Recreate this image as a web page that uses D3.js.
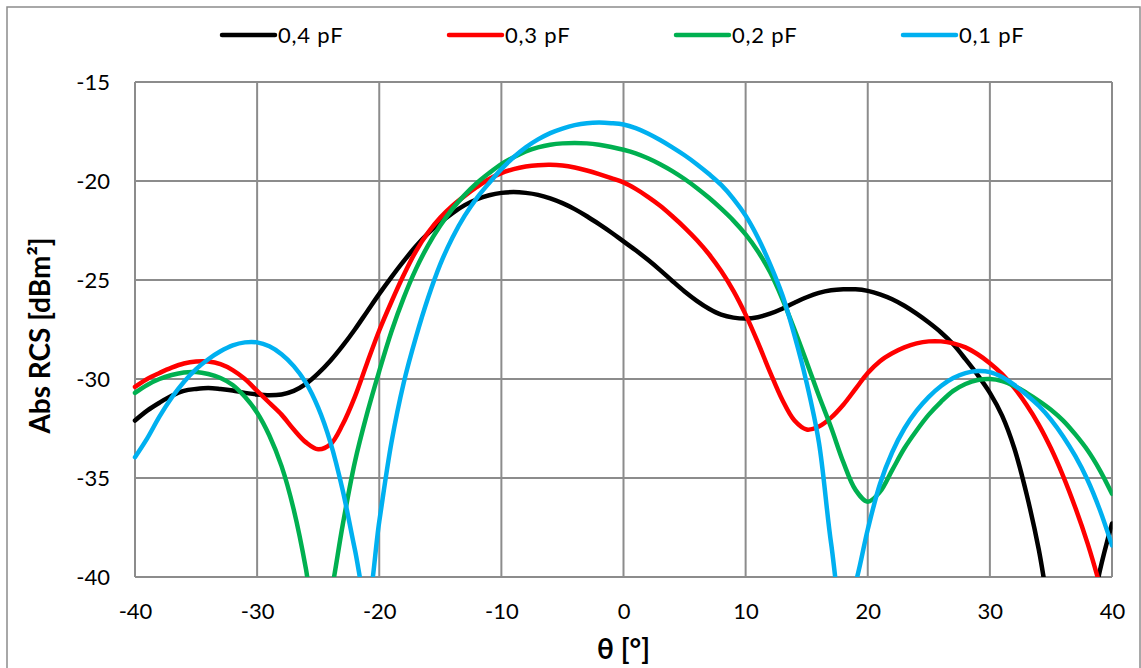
<!DOCTYPE html>
<html>
<head>
<meta charset="utf-8">
<script src="https://cdn.jsdelivr.net/npm/d3@7"></script>
<style>
  html, body { margin: 0; padding: 0; background: #fff; }
  svg { display: block; }
  text { font-family: Lato, "Open Sans", "Liberation Sans", sans-serif; fill: #000; }
</style>
</head>
<body>
<svg id="chart" width="1141" height="668"></svg>
<script>
// ---- data ----
const theta = d3.range(-40, 41, 1);
const seriesNames = ["0,4 pF", "0,3 pF", "0,2 pF", "0,1 pF"];
const seriesColors = ["#000000", "#ff0000", "#00b050", "#00b0f0"];

const pF04 = [
  -32.1, -31.6, -31.2, -30.85, -30.6, -30.5, -30.45, -30.5, -30.58, -30.7,
  -30.78, -30.82, -30.78, -30.6, -30.25, -29.72, -29.08, -28.33, -27.5, -26.6,
  -25.7, -24.85, -24.05, -23.3, -22.65, -22.1, -21.62, -21.22, -20.92, -20.72,
  -20.6, -20.56, -20.6, -20.7, -20.88, -21.12, -21.42, -21.78, -22.18, -22.6,
  -23.05, -23.5, -23.98, -24.5, -25.05, -25.58, -26.05, -26.45, -26.75, -26.9,
  -26.95, -26.88, -26.7, -26.45, -26.15, -25.87, -25.65, -25.52, -25.47, -25.47,
  -25.55, -25.72, -25.97, -26.3, -26.7, -27.15, -27.65, -28.25, -29.0, -29.8,
  -30.7, -31.85, -33.5, -35.8, -38.6, -42.2, -45.0, -46.0, -43.0, -39.7,
  -37.3
];
const pF03 = [
  -30.4, -30.0, -29.7, -29.43, -29.22, -29.12, -29.12, -29.25, -29.55, -30.0,
  -30.6, -31.2, -31.8, -32.55, -33.2, -33.55, -33.3, -32.3, -30.9, -29.2,
  -27.55, -26.1, -24.75, -23.55, -22.6, -21.85, -21.25, -20.75, -20.3, -19.9,
  -19.6, -19.4, -19.27, -19.2, -19.18, -19.22, -19.32, -19.47, -19.65, -19.85,
  -20.07, -20.4, -20.8, -21.25, -21.78, -22.35, -22.98, -23.7, -24.55, -25.55,
  -26.75, -28.15, -29.65, -31.05, -32.1, -32.55, -32.4, -31.95, -31.3, -30.5,
  -29.7, -29.1, -28.7, -28.4, -28.2, -28.1, -28.1, -28.2, -28.4, -28.75,
  -29.2, -29.75, -30.45, -31.3, -32.3, -33.5, -34.9, -36.5, -38.3, -40.4,
  -42.8
];
const pF02 = [
  -30.7, -30.3, -30.0, -29.8, -29.67, -29.65, -29.75, -29.95, -30.3, -30.9,
  -31.7, -32.85, -34.4, -36.6, -39.6, -43.5, -41.0, -37.4, -34.2, -31.75,
  -29.6, -27.6, -25.9, -24.45, -23.25, -22.25, -21.4, -20.7, -20.1, -19.6,
  -19.15, -18.8, -18.5, -18.3, -18.17, -18.1, -18.08, -18.1, -18.17, -18.28,
  -18.42, -18.6, -18.85, -19.15, -19.5, -19.9, -20.35, -20.85, -21.4, -22.0,
  -22.7, -23.55, -24.6, -25.95, -27.5, -29.15, -30.85, -32.45, -34.2, -35.6,
  -36.2, -35.7, -34.6, -33.5, -32.6, -31.8, -31.15, -30.6, -30.25, -30.05,
  -30.0, -30.1, -30.35, -30.7, -31.1, -31.55, -32.1, -32.8, -33.6, -34.6,
  -35.8
];
const pF01 = [
  -33.95, -33.0, -31.9, -30.95, -30.15, -29.5, -29.0, -28.6, -28.3, -28.15,
  -28.15, -28.35, -28.75, -29.35, -30.2, -31.45, -33.2, -35.6, -38.6, -41.4,
  -37.2, -33.2, -30.2, -27.9, -25.9, -24.2, -22.85, -21.75, -20.85, -20.1,
  -19.4, -18.8, -18.3, -17.9, -17.58, -17.35, -17.18, -17.08, -17.05, -17.08,
  -17.15, -17.33, -17.6, -17.93, -18.3, -18.7, -19.15, -19.65, -20.2, -20.9,
  -21.75, -22.85, -24.2, -25.75, -27.8, -30.2, -33.2, -38.3, -42.0, -40.3,
  -37.6, -35.3, -33.7, -32.5, -31.6, -30.9, -30.35, -29.95, -29.7, -29.6,
  -29.65, -29.9, -30.3, -30.8, -31.35, -32.05, -32.9, -33.9, -35.1, -36.6,
  -38.4
];
const seriesValues = [pF04, pF03, pF02, pF01];

const xTicks = [-40, -30, -20, -10, 0, 10, 20, 30, 40];
const yTicks = [-15, -20, -25, -30, -35, -40];
const xTitle = "θ [°]";
const yTitle = "Abs RCS [dBm²]";

// ---- layout ----
const svg = d3.select("#chart");
const plot = { left: 135, top: 82, right: 1112, bottom: 577 };

const x = d3.scaleLinear().domain([-40, 40]).range([plot.left, plot.right]);
const y = d3.scaleLinear().domain([-40, -15]).range([plot.bottom, plot.top]);

// outer frame
svg.append("rect")
  .attr("x", 7).attr("y", 7).attr("width", 1133).attr("height", 670)
  .attr("fill", "#fff").attr("stroke", "#8c8c8c").attr("stroke-width", 1.5);

// gridlines
const grid = svg.append("g");
grid.selectAll("line.v").data(xTicks).join("line")
  .attr("x1", d => x(d)).attr("x2", d => x(d))
  .attr("y1", plot.top).attr("y2", plot.bottom)
  .attr("stroke", "#8c8c8c").attr("stroke-width", 2);
grid.selectAll("line.h").data(yTicks).join("line")
  .attr("x1", plot.left).attr("x2", plot.right)
  .attr("y1", d => y(d)).attr("y2", d => y(d))
  .attr("stroke", "#8c8c8c").attr("stroke-width", 2);

// axes (labels only)
const fmt = d => String(d);
const xAxis = d3.axisBottom(x).tickValues(xTicks).tickSize(0).tickPadding(26).tickFormat(fmt);
const gx = svg.append("g").attr("transform", `translate(0,${plot.bottom})`).call(xAxis);
gx.select(".domain").remove();
gx.selectAll("text").style("font-size", "22px").attr("fill", "#000")
  .style("font-family", "Lato, 'Open Sans', sans-serif");

const yAxis = d3.axisLeft(y).tickValues(yTicks).tickSize(0).tickPadding(25).tickFormat(fmt);
const gy = svg.append("g").attr("transform", `translate(${plot.left},0)`).call(yAxis);
gy.select(".domain").remove();
gy.selectAll("text").style("font-size", "22px").attr("fill", "#000")
  .style("font-family", "Lato, 'Open Sans', sans-serif");

// clip
svg.append("clipPath").attr("id", "clip").append("rect")
  .attr("x", plot.left - 3).attr("y", plot.top - 10)
  .attr("width", plot.right - plot.left + 3.5).attr("height", plot.bottom - plot.top + 10);

const line = d3.line()
  .x((d, i) => x(theta[i]))
  .y(d => y(d))
  .curve(d3.curveCatmullRom.alpha(0.5));

const lines = svg.append("g").attr("clip-path", "url(#clip)");
seriesValues.forEach((vals, k) => {
  lines.append("path")
    .attr("d", line(vals))
    .attr("fill", "none")
    .attr("stroke", seriesColors[k])
    .attr("stroke-width", 4.5)
    .attr("stroke-linejoin", "round")
    .attr("stroke-linecap", "round");
});

// legend
const legendX = [222, 449, 676, 903];
const lg = svg.append("g");
seriesNames.forEach((name, k) => {
  const g = lg.append("g").attr("transform", `translate(${legendX[k]},35)`);
  g.append("line").attr("x1", 0).attr("x2", 53).attr("y1", 0).attr("y2", 0)
    .attr("stroke", seriesColors[k]).attr("stroke-width", 4.5).attr("stroke-linecap", "round");
  g.append("text").attr("x", 56).attr("y", 8)
    .style("font-size", "22px").style("letter-spacing", "0.8px").text(name);
});

// axis titles
svg.append("text")
  .attr("x", (plot.left + plot.right) / 2).attr("y", 659)
  .attr("text-anchor", "middle")
  .style("font-size", "28px").style("font-weight", "bold")
  .text(xTitle);

svg.append("text")
  .attr("transform", `translate(50,${(plot.top + plot.bottom) / 2 + 6}) rotate(-90)`)
  .attr("text-anchor", "middle")
  .style("font-size", "28px").style("font-weight", "bold")
  .text(yTitle);
</script>
</body>
</html>
